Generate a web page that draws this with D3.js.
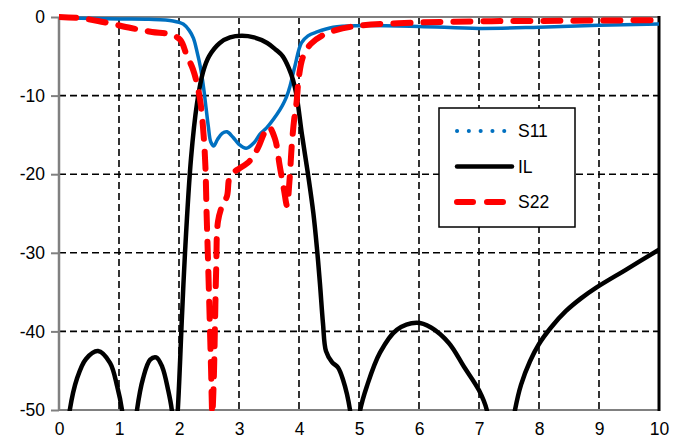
<!DOCTYPE html>
<html>
<head>
<meta charset="utf-8">
<script src="https://cdn.jsdelivr.net/npm/d3@7"></script>
<style>
  body { margin: 0; background: #fff; }
  text { font-family: "Liberation Sans", Arial, sans-serif; font-size: 17px; fill: #000; }
</style>
</head>
<body>
<script>
// frequency / dB values
var s11Freq = [0, 1, 1.5, 1.9, 2.07, 2.17, 2.24, 2.3, 2.36, 2.41, 2.45, 2.49, 2.53, 2.58, 2.64, 2.72, 2.8, 2.9, 3.0, 3.12, 3.25, 3.35, 3.46, 3.63, 3.72, 3.79, 3.85, 3.93, 4.04, 4.15, 4.3, 4.57, 5, 6, 7, 8, 9, 10];
var s11Db   = [-0.1, -0.25, -0.3, -0.5, -0.9, -1.7, -2.7, -4.4, -6.5, -9, -11.5, -14, -15.9, -16.4, -15.6, -14.8, -14.6, -15.3, -16.2, -16.7, -16, -14.9, -14.1, -12.4, -11.3, -10.2, -8.8, -6.3, -3.3, -2.4, -1.9, -1.3, -1.1, -1.2, -1.45, -1.3, -1.05, -0.9];

var ilFreq = [0.1, 0.18, 0.3, 0.45, 0.65, 0.85, 0.97, 1.05, 1.12, 1.2, 1.3, 1.4, 1.52, 1.62, 1.72, 1.82, 1.88, 1.93, 1.98, 2.05, 2.1, 2.2, 2.3, 2.4, 2.5, 2.68, 2.85, 3.05, 3.25, 3.47, 3.62, 3.73, 3.83, 3.9, 3.96, 4.05, 4.15, 4.24, 4.3, 4.35, 4.4, 4.45, 4.55, 4.65, 4.74, 4.8, 4.85, 4.9, 4.97, 5.02, 5.13, 5.35, 5.63, 5.96, 6.2, 6.5, 6.75, 7.0, 7.13, 7.2, 7.5, 7.6, 7.7, 7.85, 8.0, 8.2, 8.45, 8.7, 8.96, 9.46, 10];
var ilDb   = [-56, -50, -46, -43.5, -42.5, -44, -47, -50, -56, -58, -50, -46, -43.6, -43.3, -44.5, -47.5, -50, -55, -50, -38, -30, -18, -11, -7, -5, -3.3, -2.6, -2.4, -2.6, -3.3, -4.2, -5, -6.5, -8, -10, -15, -20, -25, -29.5, -34, -39, -42.5, -43.9, -44.6, -46.3, -48, -50, -53, -53, -50, -47, -42.7, -39.8, -38.9, -39.5, -41.5, -44.5, -47.5, -50, -54, -55, -50, -46.8, -43.8, -41.6, -39.5, -37.4, -35.8, -34.4, -32.1, -29.6];

var s22Freq = [0, 0.35, 0.65, 1.2, 1.55, 1.85, 2.02, 2.13, 2.23, 2.3, 2.36, 2.41, 2.44, 2.46, 2.48, 2.51, 2.535, 2.555, 2.58, 2.6, 2.62, 2.65, 2.72, 2.8, 2.84, 2.92, 3.0, 3.18, 3.32, 3.42, 3.5, 3.6, 3.68, 3.75, 3.8, 3.84, 3.88, 3.92, 3.96, 4.0, 4.07, 4.2, 4.4, 4.6, 5, 6, 7, 8, 9, 10];
var s22Db   = [0, -0.15, -0.5, -1.4, -1.9, -2.2, -2.9, -4.9, -6.6, -8.5, -11, -15, -19, -25, -30, -38, -45, -50.5, -46, -39, -32, -26, -24, -22.8, -20.5, -19.7, -19.3, -18.3, -16.6, -14.8, -14, -15.5, -19, -22, -24, -21, -16.3, -13, -10.8, -7.5, -5, -3.4, -2.3, -1.7, -1.1, -0.7, -0.55, -0.5, -0.45, -0.4];

var seriesNames = ["S11", "IL", "S22"];
var xTicks = [0, 1, 2, 3, 4, 5, 6, 7, 8, 9, 10];
var yTicks = [0, -10, -20, -30, -40, -50];

var plotLeft = 59, plotRight = 659, plotTop = 17, plotBottom = 410;

function toPoints(freq, db) {
  return freq.map(function (f, i) { return {f: f, db: db[i]}; });
}

function makeChart() {
  var svg = d3.select("body").append("svg")
              .attr("width", 687)
              .attr("height", 444);

  var x = d3.scaleLinear().domain([0, 10]).range([plotLeft, plotRight]);
  var y = d3.scaleLinear().domain([-50, 0]).range([plotBottom, plotTop]);

  // grid
  svg.append("g").selectAll("line")
    .data(xTicks.slice(1, -1)).enter()
    .append("line")
      .attr("x1", function (d) { return x(d); })
      .attr("x2", function (d) { return x(d); })
      .attr("y1", plotTop).attr("y2", plotBottom)
      .attr("stroke", "#000").attr("stroke-width", 1.6)
      .attr("stroke-dasharray", "7,4");
  svg.append("g").selectAll("line")
    .data(yTicks.slice(1, -1)).enter()
    .append("line")
      .attr("y1", function (d) { return y(d); })
      .attr("y2", function (d) { return y(d); })
      .attr("x1", plotLeft).attr("x2", plotRight)
      .attr("stroke", "#000").attr("stroke-width", 1.6)
      .attr("stroke-dasharray", "7,4");

  // y axis
  var yAxis = svg.append("g")
      .attr("transform", "translate(" + plotLeft + ",0)")
      .call(d3.axisLeft(y).tickValues(yTicks).tickSize(8).tickPadding(6)
              .tickFormat(function (d) { return String(d); }));
  yAxis.select(".domain").remove();
  yAxis.selectAll("line").attr("stroke", "#808080").attr("stroke-width", 2);
  yAxis.selectAll("text").style("font-size", "17.5px");

  // x axis labels
  var xAxis = svg.append("g")
      .attr("transform", "translate(0," + plotBottom + ")")
      .call(d3.axisBottom(x).tickValues(xTicks).tickSize(0).tickPadding(13)
              .tickFormat(function (d) { return String(d); }));
  xAxis.select(".domain").remove();
  xAxis.selectAll("text").style("font-size", "17.5px");

  // frame
  svg.append("line").attr("x1", plotLeft).attr("x2", plotLeft).attr("y1", plotTop).attr("y2", plotBottom)
     .attr("stroke", "#808080").attr("stroke-width", 2.5);
  svg.append("line").attr("x1", plotLeft).attr("x2", plotRight).attr("y1", plotTop).attr("y2", plotTop)
     .attr("stroke", "#808080").attr("stroke-width", 2);
  svg.append("line").attr("x1", plotLeft).attr("x2", plotRight).attr("y1", plotBottom).attr("y2", plotBottom)
     .attr("stroke", "#808080").attr("stroke-width", 2);
  svg.append("line").attr("x1", plotRight).attr("x2", plotRight).attr("y1", plotTop - 1).attr("y2", plotBottom + 1)
     .attr("stroke", "#000").attr("stroke-width", 3);

  svg.append("clipPath").attr("id", "plot")
     .append("rect").attr("x", plotLeft).attr("y", plotTop - 8)
     .attr("width", plotRight - plotLeft).attr("height", plotBottom - plotTop + 9);

  var line = d3.line()
      .x(function (d) { return x(d.f); })
      .y(function (d) { return y(d.db); })
      .curve(d3.curveCatmullRom.alpha(0.5));

  var curves = svg.append("g").attr("clip-path", "url(#plot)");

  curves.append("path")
      .attr("d", line(toPoints(s11Freq, s11Db)))
      .attr("fill", "none").attr("stroke", "#0070C0").attr("stroke-width", 3.5);
  curves.append("path")
      .attr("d", line(toPoints(ilFreq, ilDb)))
      .attr("fill", "none").attr("stroke", "#000").attr("stroke-width", 4.5);
  curves.append("path")
      .attr("d", line(toPoints(s22Freq, s22Db)))
      .attr("fill", "none").attr("stroke", "#FF0000").attr("stroke-width", 6)
      .attr("stroke-dasharray", "17,13").attr("stroke-linecap", "round");

  // legend
  var legend = svg.append("g");
  legend.append("rect")
      .attr("x", 439).attr("y", 108).attr("width", 136).attr("height", 119)
      .attr("fill", "#fff").attr("stroke", "#000").attr("stroke-width", 1.5);

  var styles = [
    {color: "#0070C0", width: 4, dash: "0.1,11.7", cap: "round"},
    {color: "#000", width: 4.5, dash: null, cap: "round"},
    {color: "#FF0000", width: 6, dash: "16,14", cap: "round"}
  ];
  seriesNames.forEach(function (name, i) {
    var ly = 131 + i * 35.5;
    legend.append("line")
        .attr("x1", 457).attr("x2", 512).attr("y1", ly).attr("y2", ly)
        .attr("stroke", styles[i].color).attr("stroke-width", styles[i].width)
        .attr("stroke-dasharray", styles[i].dash)
        .attr("stroke-linecap", styles[i].cap);
    legend.append("text")
        .attr("x", 518).attr("y", ly).attr("dy", "0.36em")
        .style("font-size", "17.5px")
        .text(name);
  });
}

window.onload = function () {
  makeChart();
};
</script>
</body>
</html>
